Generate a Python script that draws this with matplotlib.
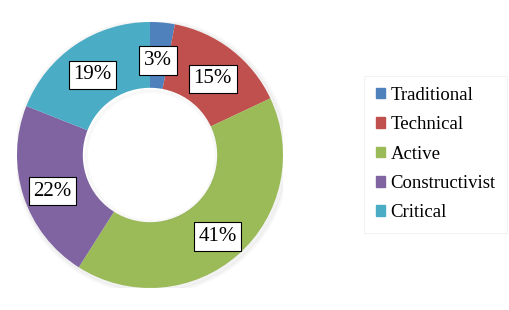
import matplotlib.pyplot as plt
import matplotlib.patches as mpatches
import numpy as np

plt.rcParams['font.family'] = ['Liberation Serif', 'DejaVu Serif']

labels = ['Traditional', 'Technical', 'Active', 'Constructivist', 'Critical']
values = [3, 15, 41, 22, 19]
colors = ['#4F81BD', '#C0504D', '#9BBB59', '#8064A2', '#4BACC6']

fig = plt.figure(figsize=(5.1, 3.1), dpi=100)
ax = fig.add_axes([150/510 - 133/510, 1 - (155 + 133)/310, 266/510, 266/310])

wedges, _ = ax.pie(values, colors=colors, startangle=90, counterclock=False,
                   radius=1.0, wedgeprops=dict(width=0.5, edgecolor='none'))
ax.set_xlim(-1, 1)
ax.set_ylim(-1, 1)
ax.set_aspect('equal')

# faint shadow around the ring
for r, a in [(1.03, 0.04), (1.015, 0.06)]:
    ax.add_patch(mpatches.Circle((0.012, -0.012), r, color='gray', alpha=a, zorder=0))
ax.add_patch(mpatches.Circle((0, 0), 0.5, color='white', zorder=1))
ax.add_patch(mpatches.Circle((0.01, -0.01), 0.49, color='gray', alpha=0.05,
                             zorder=1, fill=False, lw=2.5))

start = 90.0
for v in values:
    mid = start - v * 3.6 / 2
    start -= v * 3.6
    rr = 0.77
    x = rr * np.cos(np.radians(mid))
    y = rr * np.sin(np.radians(mid)) - 0.035
    if v == 3:
        x, y = 0.06, 0.71
    ax.text(x, y, f'{v}%', ha='center', va='center', fontsize=15, zorder=5,
            bbox=dict(boxstyle='square,pad=0.22', fc='white', ec='black', lw=0.8))

handles = [mpatches.Patch(color=c) for c in colors]
leg = fig.legend(handles, labels, loc='center left', bbox_to_anchor=(355/510, 1 - 154/310),
                 frameon=True, fontsize=13.5, handlelength=0.5, handleheight=0.5,
                 handletextpad=0.3, labelspacing=0.66, borderpad=0.6, fancybox=False)
leg.get_frame().set_edgecolor('#f0f0f0')
leg.get_frame().set_linewidth(0.8)

fig.savefig('out.png', dpi=100)
